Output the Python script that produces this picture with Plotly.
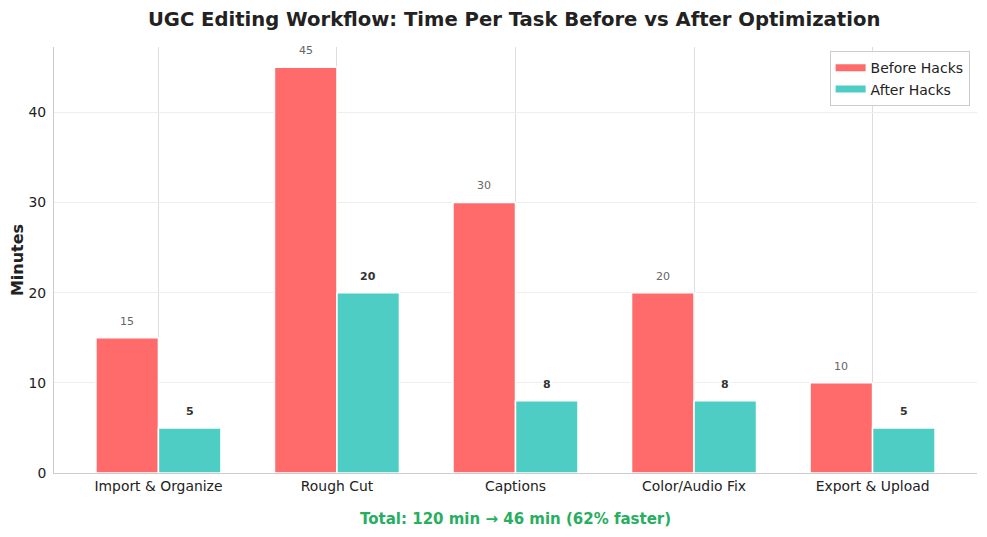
import numpy as np
import plotly.graph_objects as go

tasks = ["Import & Organize", "Rough Cut", "Captions", "Color/Audio Fix", "Export & Upload"]
before = [15, 45, 30, 20, 10]
after = [5, 20, 8, 8, 5]

RED = "#FF6B6B"
TEAL = "#4ECDC4"
W = 0.35
x = np.arange(len(tasks))

fig = go.Figure()
fig.add_trace(go.Bar(
    x=x - W / 2, y=before, width=W, name="Before Hacks", showlegend=False,
    marker=dict(color=RED, line=dict(color="white", width=1.5)),
))
fig.add_trace(go.Bar(
    x=x + W / 2, y=after, width=W, name="After Hacks", showlegend=False,
    marker=dict(color=TEAL, line=dict(color="white", width=1.5)),
))
# legend entries drawn as wide patches
for name, col in [("Before Hacks", RED), ("After Hacks", TEAL)]:
    fig.add_trace(go.Scatter(x=[None], y=[None], mode="lines", name=name,
                             line=dict(color=col, width=7)))

# value labels with white boxes, like matplotlib bbox
for xi, b, a in zip(x, before, after):
    fig.add_annotation(x=xi - W / 2, y=b + 0.9, text=str(b), showarrow=False,
                       yanchor="bottom", bgcolor="white",
                       font=dict(size=11, color="#666666"))
    fig.add_annotation(x=xi + W / 2, y=a + 0.9, text=f"<b>{a}</b>", showarrow=False,
                       yanchor="bottom", bgcolor="white",
                       font=dict(size=11, color="#333333"))

total_b, total_a = sum(before), sum(after)
pct = round((total_b - total_a) / total_b * 100)
fig.add_annotation(
    xref="paper", yref="paper", x=0.5, y=-0.108, yanchor="middle",
    text=f"<b>Total: {total_b} min → {total_a} min ({pct}% faster)</b>",
    showarrow=False, font=dict(size=15, color="#27AE60"),
)

# page body has an 8px margin, so the figure is 8px smaller than the window
fig.update_layout(
    width=979, height=529,
    paper_bgcolor="white", plot_bgcolor="white",
    font=dict(family="DejaVu Sans", color="#333333"),
    title=dict(text="<b>UGC Editing Workflow: Time Per Task Before vs After Optimization</b>",
               x=0.517, xanchor="center", y=0.979, yanchor="middle",
               font=dict(size=19.6, color="#222222")),
    margin=dict(l=46, r=10, t=39, b=64),
    barmode="overlay",
    showlegend=True,
    legend=dict(x=0.992, y=0.99, xanchor="right", yanchor="top",
                bgcolor="rgba(255,255,255,0.9)", bordercolor="#cccccc", borderwidth=1,
                font=dict(size=14, color="#222222"), itemwidth=30),
)
fig.update_xaxes(
    range=[-0.585, 4.585], tickvals=list(x), ticktext=tasks,
    showgrid=True, gridcolor="#dddddd", gridwidth=1,
    showline=True, linecolor="#cccccc", linewidth=1,
    ticks="",
    tickfont=dict(size=13.9, color="#222222"), zeroline=False, automargin=False,
)
fig.update_yaxes(
    range=[0, 47.25], dtick=10,
    showgrid=True, gridcolor="#eeeeee", gridwidth=1,
    showline=True, linecolor="#cccccc", linewidth=1,
    ticks="outside", ticklen=4, tickcolor="rgba(0,0,0,0)",
    tickfont=dict(size=13.9, color="#222222"), zeroline=False, automargin=False,
    title=dict(text="<b>Minutes</b>", font=dict(size=16, color="#222222"), standoff=10),
)

fig.write_html("out.html")
